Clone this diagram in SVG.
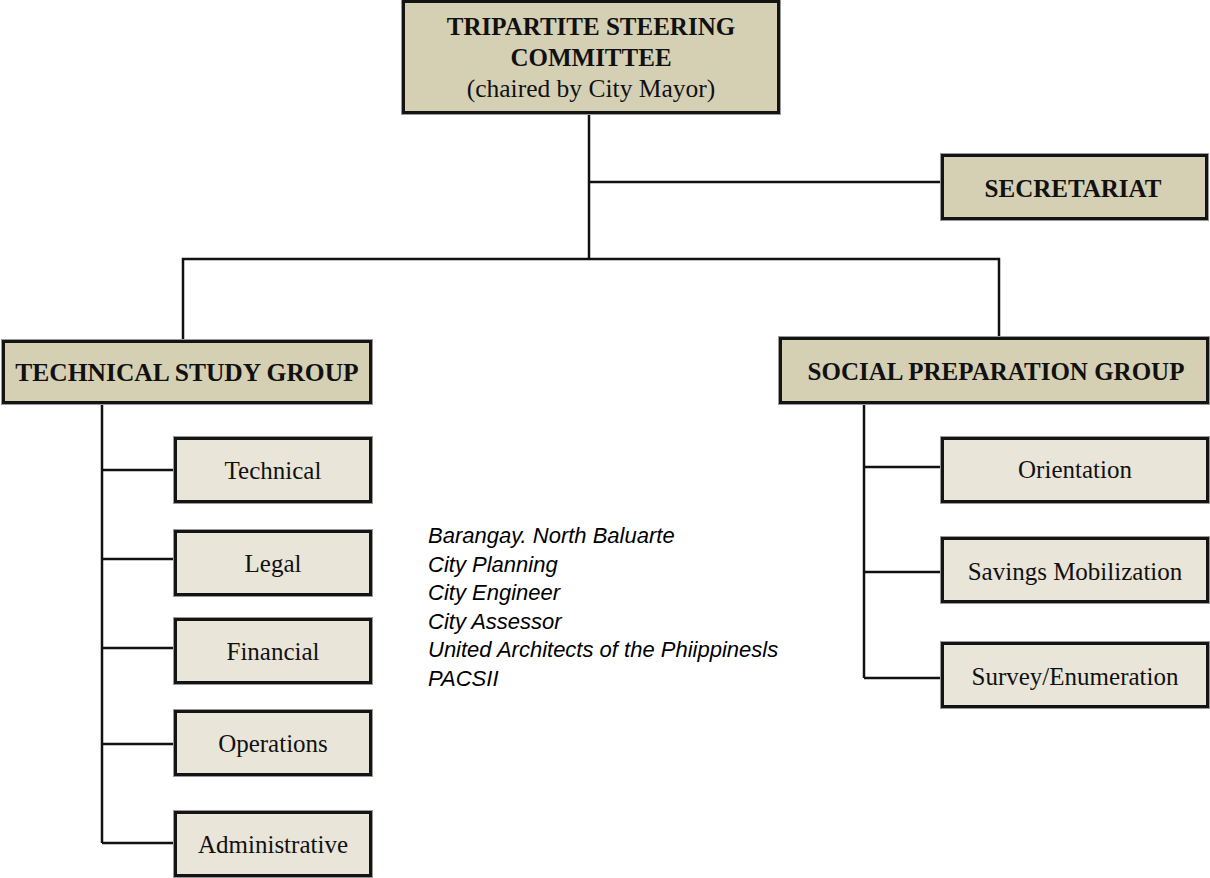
<svg xmlns="http://www.w3.org/2000/svg" width="1210" height="878" viewBox="0 0 1210 878">
  <style>
    .main { fill: #d5d0b4; stroke: #141414; stroke-width: 3; }
    .sub { fill: #e9e5d9; stroke: #141414; stroke-width: 3; }
    .halo { fill: none; stroke: #9a9a9a; stroke-width: 5; }
    .title { font-family: "Liberation Serif", "Times New Roman", serif; font-weight: bold; font-size: 25px; fill: #111; text-anchor: middle; }
    .label { font-family: "Liberation Serif", "Times New Roman", serif; font-size: 25px; fill: #111; text-anchor: middle; }
    .note { font-family: "Liberation Sans", Arial, sans-serif; font-style: italic; font-size: 22px; fill: #000; }
    .wire { fill: none; stroke: #111; stroke-width: 2.5; }
  </style>

  <!-- connectors -->
  <g id="connectors" class="wire">
    <path d="M589 113 V259"/>
    <path d="M589 182 H942"/>
    <path d="M183 340 V259 H999 V338"/>
    <path d="M102 403 V843"/>
    <path d="M102 470 H175 M102 559 H175 M102 648 H175 M102 744 H175 M102 843 H175"/>
    <path d="M864 403 V678"/>
    <path d="M864 467 H942 M864 572 H942 M864 678 H942"/>
  </g>

  <!-- top level -->
  <g id="steering-committee">
    <rect class="halo" x="403.5" y="1.5" width="375" height="111"/>
    <rect class="main" x="403.5" y="1.5" width="375" height="111"/>
    <text class="title" x="591" y="35">TRIPARTITE STEERING</text>
    <text class="title" x="591" y="66">COMMITTEE</text>
    <text class="label" x="591" y="97" style="font-size:25.5px">(chaired by City Mayor)</text>
  </g>

  <g id="secretariat">
    <rect class="halo" x="942.5" y="155.5" width="264" height="63"/>
    <rect class="main" x="942.5" y="155.5" width="264" height="63"/>
    <text class="title" x="1073" y="197">SECRETARIAT</text>
  </g>

  <!-- groups -->
  <g id="technical-study-group">
    <rect class="halo" x="3.5" y="341.5" width="367" height="61"/>
    <rect class="main" x="3.5" y="341.5" width="367" height="61"/>
    <text class="title" x="187" y="381" style="font-size:25.5px">TECHNICAL STUDY GROUP</text>
  </g>

  <g id="social-preparation-group">
    <rect class="halo" x="780.5" y="338.5" width="427" height="64"/>
    <rect class="main" x="780.5" y="338.5" width="427" height="64"/>
    <text class="title" x="996" y="380">SOCIAL PREPARATION GROUP</text>
  </g>

  <!-- technical study sub-units -->
  <g id="technical">
    <rect class="halo" x="175.5" y="438.5" width="195" height="63"/>
    <rect class="sub" x="175.5" y="438.5" width="195" height="63"/>
    <text class="label" x="273" y="479">Technical</text>
  </g>
  <g id="legal">
    <rect class="halo" x="175.5" y="531.5" width="195" height="63"/>
    <rect class="sub" x="175.5" y="531.5" width="195" height="63"/>
    <text class="label" x="273" y="572">Legal</text>
  </g>
  <g id="financial">
    <rect class="halo" x="175.5" y="619.5" width="195" height="63"/>
    <rect class="sub" x="175.5" y="619.5" width="195" height="63"/>
    <text class="label" x="273" y="660">Financial</text>
  </g>
  <g id="operations">
    <rect class="halo" x="175.5" y="711.5" width="195" height="63"/>
    <rect class="sub" x="175.5" y="711.5" width="195" height="63"/>
    <text class="label" x="273" y="752">Operations</text>
  </g>
  <g id="administrative">
    <rect class="halo" x="175.5" y="812.5" width="195" height="63"/>
    <rect class="sub" x="175.5" y="812.5" width="195" height="63"/>
    <text class="label" x="273" y="853">Administrative</text>
  </g>

  <!-- social preparation sub-units -->
  <g id="orientation">
    <rect class="halo" x="942.5" y="438.5" width="265" height="63"/>
    <rect class="sub" x="942.5" y="438.5" width="265" height="63"/>
    <text class="label" x="1075" y="478">Orientation</text>
  </g>
  <g id="savings-mobilization">
    <rect class="halo" x="942.5" y="538.5" width="265" height="63"/>
    <rect class="sub" x="942.5" y="538.5" width="265" height="63"/>
    <text class="label" x="1075" y="580">Savings Mobilization</text>
  </g>
  <g id="survey-enumeration">
    <rect class="halo" x="942.5" y="643.5" width="265" height="63"/>
    <rect class="sub" x="942.5" y="643.5" width="265" height="63"/>
    <text class="label" x="1075" y="685">Survey/Enumeration</text>
  </g>

  <!-- member list -->
  <g id="members" class="note">
    <text x="428" y="543">Barangay. North Baluarte</text>
    <text x="428" y="571.5">City Planning</text>
    <text x="428" y="600">City Engineer</text>
    <text x="428" y="628.5">City Assessor</text>
    <text x="428" y="657">United Architects of the Phiippinesls</text>
    <text x="428" y="685.5">PACSII</text>
  </g>
</svg>
